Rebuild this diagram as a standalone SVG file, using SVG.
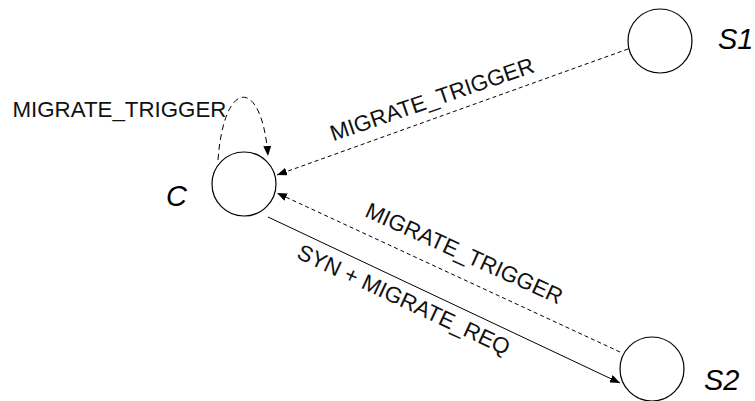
<svg xmlns="http://www.w3.org/2000/svg" width="755" height="401" viewBox="0 0 755 401">
  <style>
    .state { fill: #ffffff; stroke: #000000; stroke-width: 1.2; }
    .name { font-family: "Liberation Sans", Arial, sans-serif; font-style: italic; font-size: 29px; fill: #000000; }
    .msg { font-family: "Liberation Sans", Arial, sans-serif; font-size: 22.3px; fill: #111111; }
    .edge { fill: none; stroke: #000000; stroke-width: 1; }
    .dashed { stroke-dasharray: 4 3; }
    .loop { stroke-dasharray: 6 4; }
  </style>
  <defs>
    <marker id="arrow" viewBox="0 0 10 8" refX="10" refY="4" markerWidth="10" markerHeight="8" markerUnits="userSpaceOnUse" orient="auto">
      <path d="M0,0 L10,4 L0,8 Z" fill="#000000"/>
    </marker>
  </defs>

  <!-- connectors -->
  <g id="connectors">
    <path id="c-self" class="edge loop" d="M218,160 C224,77 262,77 268,156" marker-end="url(#arrow)"/>
    <line id="s1-to-c" class="edge dashed" x1="628" y1="49" x2="277" y2="175" marker-end="url(#arrow)"/>
    <line id="s2-to-c" class="edge dashed" x1="620" y1="352" x2="277" y2="193" marker-end="url(#arrow)"/>
    <line id="c-to-s2" class="edge" x1="268" y1="217" x2="620" y2="383" marker-end="url(#arrow)"/>

    <text class="msg" x="12.5" y="116.5">MIGRATE_TRIGGER</text>
    <text class="msg" text-anchor="middle" transform="translate(434.5,106.5) rotate(-19)">MIGRATE_TRIGGER</text>
    <text class="msg" text-anchor="middle" transform="translate(461,260.3) rotate(24.5)">MIGRATE_TRIGGER</text>
    <text class="msg" text-anchor="middle" transform="translate(400.5,306.5) rotate(25)">SYN + MIGRATE_REQ</text>
  </g>

  <!-- states -->
  <g id="node-c">
    <circle class="state" cx="244" cy="184" r="32"/>
    <text class="name" x="166" y="206">C</text>
  </g>
  <g id="node-s1">
    <circle class="state" cx="660" cy="41" r="32"/>
    <text class="name" x="718" y="49">S1</text>
  </g>
  <g id="node-s2">
    <circle class="state" cx="652" cy="369" r="32"/>
    <text class="name" x="704" y="390">S2</text>
  </g>
</svg>
